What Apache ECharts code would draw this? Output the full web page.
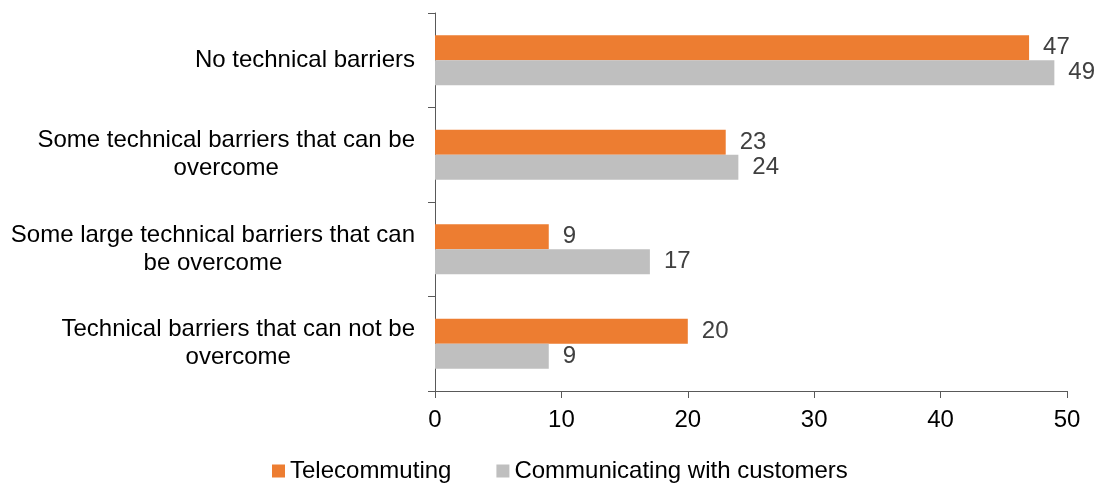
<!DOCTYPE html>
<html>
<head>
<meta charset="utf-8">
<script src="https://cdn.jsdelivr.net/npm/echarts@6/dist/echarts.min.js"></script>
<style>
  html, body { margin: 0; padding: 0; background: #ffffff; }
  #chart { width: 1099px; height: 491px; }
</style>
</head>
<body>
<div id="chart"></div>
<script>
// Answer categories (top to bottom), with line breaks for the axis labels
const categories = [
  'No technical barriers',
  'Some technical barriers that can be\novercome',
  'Some large technical barriers that can\nbe overcome',
  'Technical barriers that can not be\novercome'
];
const seriesNames = ['Telecommuting', 'Communicating with customers'];
const telecommuting = [47, 23, 9, 20];
const communicating = [49, 24, 17, 9];
const xTicks = { min: 0, max: 50, interval: 10 };

const font = '"Liberation Sans", Arial, sans-serif';
const fontSize = 24;
const axisColor = '#595959';

const chart = echarts.init(document.getElementById('chart'));

const valueLabel = {
  show: true,
  position: 'right',
  distance: 14,
  color: '#404040',
  fontFamily: font,
  fontSize: fontSize
};

chart.setOption({
  animation: false,
  textStyle: { fontFamily: font },
  grid: { left: 435, right: 32, top: 13, bottom: 100, containLabel: false },
  legend: {
    bottom: 3,
    left: 267,
    itemWidth: 13,
    itemHeight: 13,
    itemGap: 45,
    icon: 'rect',
    textStyle: { fontFamily: font, fontSize: fontSize, color: '#000000', padding: [0, 0, 0, 0] },
    data: seriesNames
  },
  xAxis: {
    type: 'value',
    min: xTicks.min,
    max: xTicks.max,
    interval: xTicks.interval,
    axisLine: { show: true, lineStyle: { color: axisColor, width: 1 } },
    axisTick: { show: true, length: 7, lineStyle: { color: axisColor } },
    splitLine: { show: false },
    axisLabel: { color: '#000000', fontFamily: font, fontSize: fontSize, margin: 17 }
  },
  yAxis: {
    type: 'category',
    inverse: true,
    data: categories,
    axisLine: { show: true, lineStyle: { color: axisColor, width: 1 } },
    axisTick: { show: true, length: 7, lineStyle: { color: axisColor } },
    axisLabel: {
      margin: 20,
      color: '#000000',
      fontFamily: font,
      fontSize: fontSize,
      align: 'right',
      formatter: function (v) {
        return v.split('\n').map(function (l) { return '{c|' + l + '}'; }).join('\n');
      },
      rich: {
        c: { align: 'center', fontFamily: font, fontSize: fontSize, color: '#000000', lineHeight: 28 }
      }
    }
  },
  series: [
    {
      name: seriesNames[0],
      type: 'bar',
      data: telecommuting,
      barWidth: 25,
      barGap: '0%',
      itemStyle: { color: '#ED7D31' },
      label: valueLabel
    },
    {
      name: seriesNames[1],
      type: 'bar',
      data: communicating,
      barWidth: 25,
      barGap: '0%',
      itemStyle: { color: '#BFBFBF' },
      label: valueLabel
    }
  ]
});
</script>
</body>
</html>
